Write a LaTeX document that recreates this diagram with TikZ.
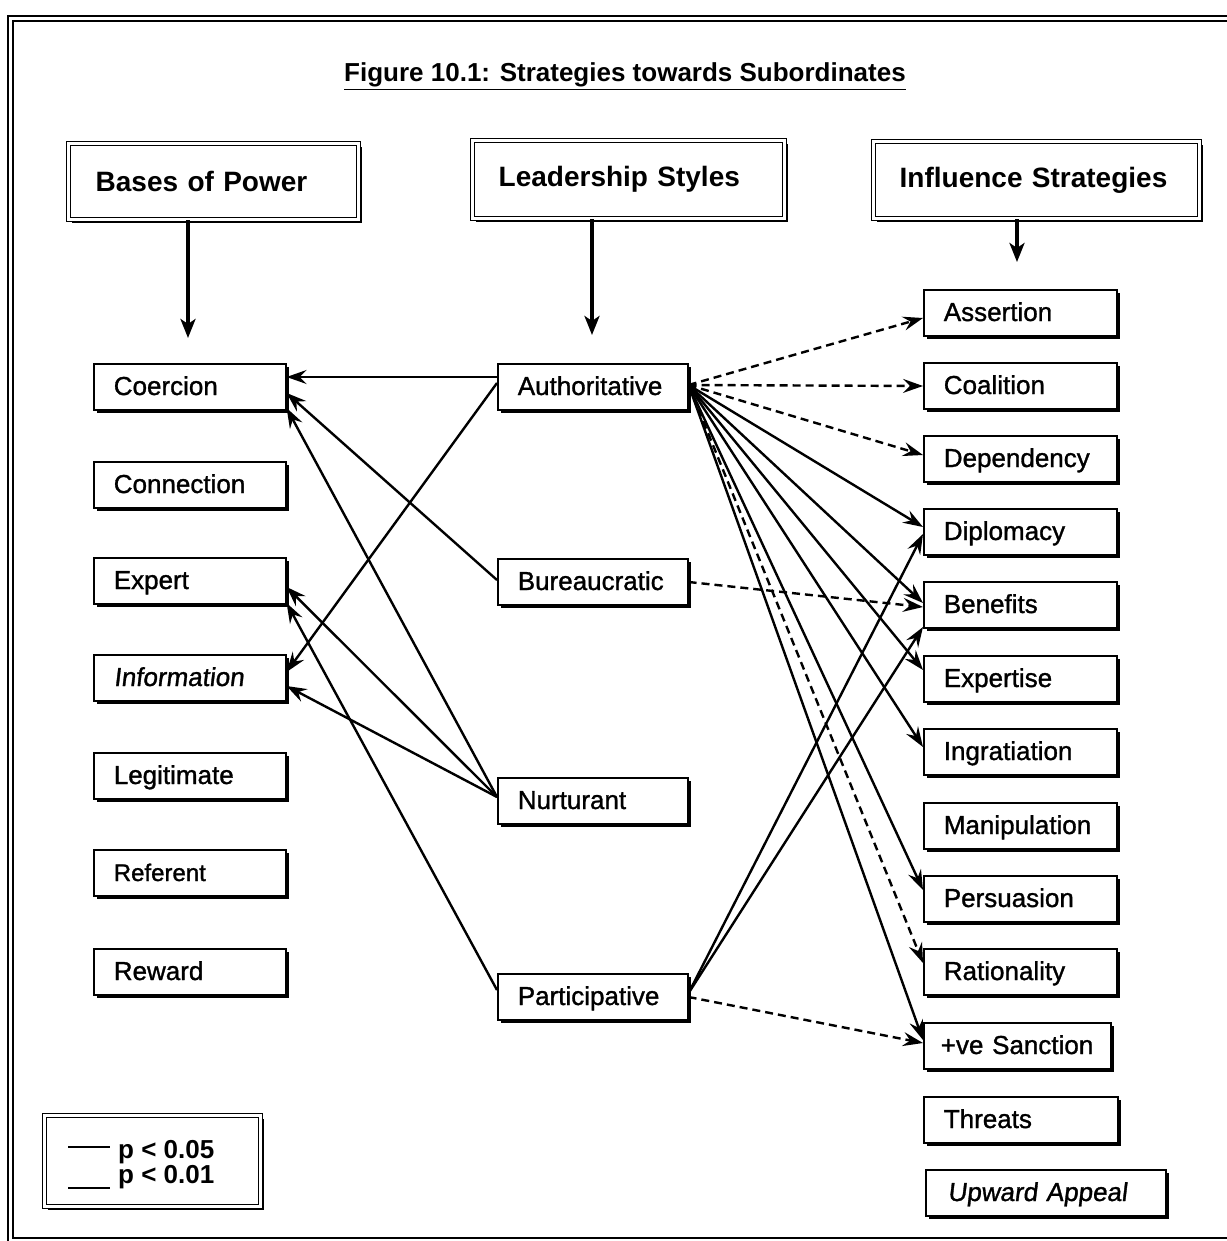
\documentclass[tikz,border=0pt]{standalone}
\usepackage{fontspec}
\setmainfont{Liberation Sans}
\newfontfamily\lblfont[FakeBold=1.2]{Liberation Sans}
\newfontfamily\slfont[FakeBold=1.2,FakeSlant=0.12]{Liberation Sans}
\usetikzlibrary{arrows.meta,shadows,calc}
\tikzset{
  shad/.style={general shadow={fill=black, shadow xshift=3pt, shadow yshift=-3pt}},
  sbox/.style={draw, line width=1.6pt, fill=white, shad, minimum height=46pt, inner xsep=20pt, inner ysep=0pt,
    text height=19pt, text depth=3pt,
    align=left, anchor=west, font=\lblfont\fontsize{26}{30}\selectfont},
  lbox/.style={sbox, text width=152pt},
  mbox/.style={sbox, text width=150pt},
  rbox/.style={sbox, text width=153pt},
  hbox/.style={draw, double, double distance=2.5pt, line width=1.4pt, fill=white, shad, anchor=north west,
    align=left, inner xsep=26pt, inner ysep=0pt, font=\bfseries\fontsize{28}{33}\selectfont},
  conn/.style={line width=2.4pt, -{Stealth[length=20pt,width=14pt,inset=7pt]}},
  dconn/.style={conn, dash pattern=on 8pt off 5pt},
  harrow/.style={line width=4.4pt, -{Stealth[length=19pt,width=15pt,inset=5pt]}},
}
\begin{document}
\begin{tikzpicture}[x=1pt,y=-1pt]
\useasboundingbox (0,0) rectangle (1226,1241);
% outer frame
\draw[line width=2.2pt] (8,16) rectangle (1252,1252);
\draw[line width=2.2pt] (13,21) rectangle (1246,1238);

% title
\node[anchor=base, font=\bfseries\fontsize{26}{30}\selectfont] (title) at (625,82)
  {\underline{Figure 10.1: Strategies towards Subordinates}};

% header boxes
\node[hbox, minimum width=290pt, minimum height=76pt, text width=236pt] (hb) at (68,143) {\mbox{Bases of Power}};
\node[hbox, minimum width=312pt, minimum height=78pt, text width=260pt] (hl) at (472,140) {\mbox{Leadership Styles}};
\node[hbox, minimum width=326pt, minimum height=77pt, text width=274pt] (hi) at (873,141) {\mbox{Influence Strategies}};

\coordinate (bpa) at (188,338);
\coordinate (lsa) at (592,335);
\coordinate (isa) at (1017,262);
\draw[harrow] (hb.south -| bpa) -- (bpa);
\draw[harrow] (hl.south -| lsa) -- (lsa);
\draw[harrow] (hi.south -| isa) -- (isa);

% left column
\node[lbox] (coer) at (93,387) {Coercion};
\node[lbox] (conn) at (93,485) {Connection};
\node[lbox] (expt) at (93,581) {Expert};
\node[lbox, font=\slfont\fontsize{26}{30}\selectfont] (info) at (93,678) {Information};
\node[lbox] (legi) at (93,776) {Legitimate};
\node[lbox, font=\lblfont\fontsize{24}{28}\selectfont] (refe) at (93,873) {Referent};
\node[lbox] (rewa) at (93,972) {Reward};

% middle column
\node[mbox] (auth) at (497,387) {Authoritative};
\node[mbox] (bure) at (497,582) {Bureaucratic};
\node[mbox] (nurt) at (497,801) {Nurturant};
\node[mbox] (part) at (497,997) {Participative};

% right column
\node[rbox] (asse) at (923,313) {Assertion};
\node[rbox] (coal) at (923,386) {Coalition};
\node[rbox] (depe) at (923,459) {Dependency};
\node[rbox] (dipl) at (923,532) {Diplomacy};
\node[rbox] (bene) at (923,605) {Benefits};
\node[rbox] (expe) at (923,679) {Expertise};
\node[rbox] (ingr) at (923,752) {Ingratiation};
\node[rbox] (mani) at (923,826) {Manipulation};
\node[rbox] (pers) at (923,899) {Persuasion};
\node[rbox] (rati) at (923,972) {Rationality};
\node[rbox, text width=153pt, inner xsep=17pt] (sanc) at (923,1046) {\mbox{+ve Sanction}};
\node[rbox, text width=154pt] (thre) at (923,1120) {Threats};
\node[rbox, text width=196pt, inner xsep=22pt, font=\slfont\fontsize{26}{30}\selectfont] (upwa) at (925,1193) {Upward Appeal};

% legend
\node[hbox, minimum width=216pt, minimum height=91pt] (leg) at (44,1115) {};
\draw[line width=2.4pt] (68,1147) -- (110,1147);
\draw[line width=2.4pt] (68,1188) -- (110,1188);
\node[anchor=base west, inner sep=0pt, font=\bfseries\fontsize{26}{30}\selectfont] (l1) at (118,1158) {p < 0.05};
\node[anchor=base west, inner sep=0pt, font=\bfseries\fontsize{26}{30}\selectfont] (l2) at (118,1183) {p < 0.01};

% connectors to bases of power
\draw[conn] ([yshift=10pt]auth.west) -- ([yshift=10pt]coer.east);
\draw[conn] ([yshift=2pt]bure.west) -- ([yshift=-6pt]coer.east);
\draw[conn] ([yshift=4pt]nurt.west) -- ([yshift=-21pt]coer.east);
\draw[conn] ([yshift=4pt]auth.west) -- ([yshift=6pt]info.east);
\draw[conn] ([yshift=4pt]nurt.west) -- ([yshift=-6pt]expt.east);
\draw[conn] ([yshift=7pt]part.west) -- ([yshift=-22pt]expt.east);
\draw[conn] ([yshift=4pt]nurt.west) -- ([yshift=-8pt]info.east);

% connectors to influence strategies
\coordinate (A) at ([yshift=2pt]auth.east);
\draw[dconn] (A) -- ([yshift=-5pt]asse.west);
\draw[dconn] (A) -- (coal.west);
\draw[dconn] (A) -- ([yshift=4pt]depe.west);
\draw[conn] (A) -- ([yshift=5pt]dipl.west);
\draw[conn] (A) -- ([yshift=2pt]bene.west);
\draw[dconn] (bure.east) -- ([yshift=-2pt]bene.west);
\draw[conn] (A) -- ([yshift=9pt]expe.west);
\draw[conn] (A) -- ([yshift=5pt]ingr.west);
\draw[conn] (A) -- ([yshift=9pt]pers.west);
\draw[dconn] (A) -- ([yshift=9pt]rati.west);
\draw[conn] (A) -- ([yshift=6pt]sanc.west);
\draw[conn] ([yshift=4pt]part.east) -- ([yshift=-2pt]dipl.west);
\draw[conn] ([yshift=4pt]part.east) -- ([yshift=-22pt]bene.west);
\draw[dconn] (part.east) -- ([yshift=3pt]sanc.west);
\end{tikzpicture}
\end{document}
